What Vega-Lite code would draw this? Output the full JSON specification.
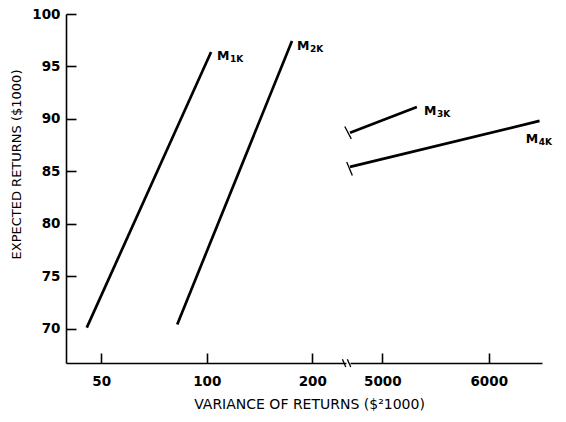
{
  "$schema": "https://vega.github.io/schema/vega-lite/v6.json",
  "padding": {"left": 10, "top": 7, "right": 5, "bottom": 5},
  "background": "white",
  "spacing": 4,
  "bounds": "flush",
  "config": {
    "view": {"stroke": null},
    "font": "DejaVu Sans",
    "axis": {
      "grid": false,
      "domainColor": "black",
      "domainWidth": 1.6,
      "tickColor": "black",
      "tickWidth": 1.6,
      "tickSize": -10,
      "labelColor": "black",
      "labelFont": "DejaVu Sans",
      "labelFontWeight": "bold",
      "labelFontSize": 13.5,
      "titleColor": "black",
      "titleFont": "DejaVu Sans",
      "titleFontWeight": "normal",
      "titleFontSize": 13
    }
  },
  "datasets": {
    "lines": [
      {"panel": "left", "series": "M1K", "variance": 45.5, "returns": 70.1},
      {"panel": "left", "series": "M1K", "variance": 102.9, "returns": 96.38},
      {"panel": "left", "series": "M2K", "variance": 82.4, "returns": 70.41},
      {"panel": "left", "series": "M2K", "variance": 175.0, "returns": 97.43},
      {"panel": "right", "series": "M3K", "variance": 4697, "returns": 88.67},
      {"panel": "right", "series": "M3K", "variance": 5325, "returns": 91.14},
      {"panel": "right", "series": "M4K", "variance": 4697, "returns": 85.43},
      {"panel": "right", "series": "M4K", "variance": 6477, "returns": 89.81}
    ],
    "breaks": [
      {"panel": "left", "x": 243.7, "x2": 249.1, "y": 67.08, "y2": 66.35},
      {"panel": "right", "x": 4672, "x2": 4704, "y": 67.08, "y2": 66.35},
      {"panel": "right", "x": 4648, "x2": 4709, "y": 89.27, "y2": 88.1},
      {"panel": "right", "x": 4666, "x2": 4719, "y": 85.88, "y2": 84.6}
    ],
    "labels": [
      {"panel": "left", "main": "M", "sub": "1K", "x": 107, "y": 96.0},
      {"panel": "left", "main": "M", "sub": "2K", "x": 181, "y": 96.95},
      {"panel": "right", "main": "M", "sub": "3K", "x": 5391, "y": 90.76},
      {"panel": "right", "main": "M", "sub": "4K", "x": 6347, "y": 88.1}
    ]
  },
  "hconcat": [
    {
      "width": 280,
      "height": 349,
      "layer": [
        {
          "data": {"name": "lines"},
          "transform": [{"filter": "datum.panel === 'left'"}],
          "mark": {"type": "line", "color": "black", "strokeWidth": 2.7},
          "encoding": {
            "x": {
              "field": "variance", "type": "quantitative",
              "scale": {"type": "log", "domain": [39.7, 249.5], "nice": false},
              "axis": {
                "values": [50, 100, 200], "format": "d", "labelPadding": 21,
                "title": "VARIANCE OF RETURNS ($²1000)", "titleFontSize": 14,
                "titleX": 243, "titleY": 41, "titleBaseline": "middle", "titleAlign": "center", "titleAngle": 0
              }
            },
            "y": {
              "field": "returns", "type": "quantitative",
              "scale": {"domain": [66.73, 100], "nice": false, "zero": false},
              "axis": {
                "values": [70, 75, 80, 85, 90, 95, 100], "labelPadding": 16,
                "title": "EXPECTED RETURNS ($1000)",
                "titleX": -50, "titleY": 150, "titleBaseline": "middle", "titleAlign": "center", "titleAngle": -90
              }
            },
            "detail": {"field": "series"}
          }
        },
        {
          "data": {"name": "breaks"},
          "transform": [{"filter": "datum.panel === 'left'"}],
          "mark": {"type": "rule", "color": "black", "strokeWidth": 1.3},
          "encoding": {
            "x": {"field": "x", "type": "quantitative"},
            "x2": {"field": "x2"},
            "y": {"field": "y", "type": "quantitative"},
            "y2": {"field": "y2"}
          }
        },
        {
          "data": {"name": "labels"},
          "transform": [{"filter": "datum.panel === 'left'"}],
          "mark": {"type": "text", "align": "left", "baseline": "middle", "fontSize": 12.5, "fontWeight": "bold", "color": "black"},
          "encoding": {
            "x": {"field": "x", "type": "quantitative"},
            "y": {"field": "y", "type": "quantitative"},
            "text": {"field": "main"}
          }
        },
        {
          "data": {"name": "labels"},
          "transform": [{"filter": "datum.panel === 'left'"}],
          "mark": {"type": "text", "align": "left", "baseline": "middle", "fontSize": 9, "fontWeight": "bold", "color": "black", "dx": 13, "dy": 3},
          "encoding": {
            "x": {"field": "x", "type": "quantitative"},
            "y": {"field": "y", "type": "quantitative"},
            "text": {"field": "sub"}
          }
        }
      ]
    },
    {
      "width": 192,
      "height": 349,
      "layer": [
        {
          "data": {"name": "lines"},
          "transform": [{"filter": "datum.panel === 'right'"}],
          "mark": {"type": "line", "color": "black", "strokeWidth": 2.7},
          "encoding": {
            "x": {
              "field": "variance", "type": "quantitative",
              "scale": {"domain": [4697, 6500], "nice": false, "zero": false},
              "axis": {"values": [5000, 6000], "format": "d", "labelPadding": 21, "title": null}
            },
            "y": {
              "field": "returns", "type": "quantitative",
              "scale": {"domain": [66.73, 100], "nice": false, "zero": false},
              "axis": null
            },
            "detail": {"field": "series"}
          }
        },
        {
          "data": {"name": "breaks"},
          "transform": [{"filter": "datum.panel === 'right'"}],
          "mark": {"type": "rule", "color": "black", "strokeWidth": 1.3},
          "encoding": {
            "x": {"field": "x", "type": "quantitative"},
            "x2": {"field": "x2"},
            "y": {"field": "y", "type": "quantitative"},
            "y2": {"field": "y2"}
          }
        },
        {
          "data": {"name": "labels"},
          "transform": [{"filter": "datum.panel === 'right'"}],
          "mark": {"type": "text", "align": "left", "baseline": "middle", "fontSize": 12.5, "fontWeight": "bold", "color": "black"},
          "encoding": {
            "x": {"field": "x", "type": "quantitative"},
            "y": {"field": "y", "type": "quantitative"},
            "text": {"field": "main"}
          }
        },
        {
          "data": {"name": "labels"},
          "transform": [{"filter": "datum.panel === 'right'"}],
          "mark": {"type": "text", "align": "left", "baseline": "middle", "fontSize": 9, "fontWeight": "bold", "color": "black", "dx": 13, "dy": 3},
          "encoding": {
            "x": {"field": "x", "type": "quantitative"},
            "y": {"field": "y", "type": "quantitative"},
            "text": {"field": "sub"}
          }
        }
      ]
    }
  ]
}
